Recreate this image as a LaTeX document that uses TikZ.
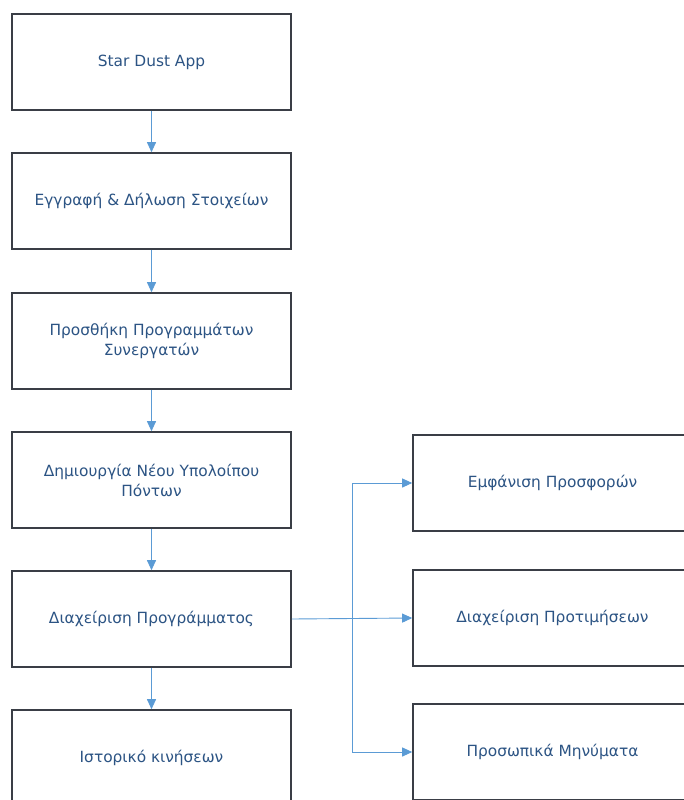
\documentclass[tikz,border=0pt]{standalone}
\usepackage{fontspec}
\setmainfont{DejaVu Sans}
\usetikzlibrary{arrows.meta}
\definecolor{txt}{RGB}{44,84,132}
\definecolor{brd}{RGB}{58,62,70}
\definecolor{arr}{RGB}{91,155,213}
\tikzset{
  box/.style={draw=brd, line width=1.6pt, fill=white, minimum width=279pt, minimum height=96pt,
    text=txt, align=center, font=\fontsize{15.4}{20}\selectfont, inner sep=0pt},
  conn/.style={draw=arr, line width=0.9pt, -{Triangle[length=10pt,width=9pt]}}
}
\begin{document}
\begin{tikzpicture}[x=1pt,y=-1pt]
\useasboundingbox (0,0) rectangle (684,800);
\clip (0,0) rectangle (684,800);
\node[box] (a) at (151.5,62) {Star Dust App};
\node[box] (b) at (151.5,201) {Εγγραφή \& Δήλωση Στοιχείων};
\node[box] (c) at (151.5,341) {Προσθήκη Προγραμμάτων\\Συνεργατών};
\node[box] (d) at (151.5,480) {Δημιουργία Νέου Υπολοίπου\\Πόντων};
\node[box] (e) at (151.5,619) {Διαχείριση Προγράμματος};
\node[box] (f) at (151.5,758) {Ιστορικό κινήσεων};
\node[box] (r1) at (552.5,483) {Εμφάνιση Προσφορών};
\node[box] (r2) at (552.5,618) {Διαχείριση Προτιμήσεων};
\node[box] (r3) at (552.5,752) {Προσωπικά Μηνύματα};
\coordinate (j) at (352,619);
\draw[conn] (a) -- (b);
\draw[conn] (b) -- (c);
\draw[conn] (c) -- (d);
\draw[conn] (d) -- (e);
\draw[conn] (e) -- (f);
\draw[conn] (e.east) -- (r2.west);
\draw[conn] (j) |- (r1.west);
\draw[conn] (j) |- (r3.west);
\end{tikzpicture}
\end{document}
